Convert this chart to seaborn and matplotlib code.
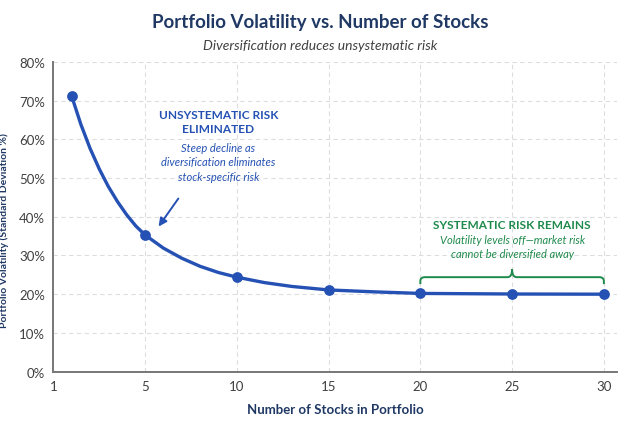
import numpy as np
import pandas as pd
import seaborn as sns
import matplotlib
matplotlib.use('Agg')
import matplotlib.pyplot as plt
from matplotlib.path import Path
from matplotlib.patches import PathPatch

## data
stocks = [1, 5, 10, 15, 20, 25, 30]
volatility = [71.2, 35.3, 24.4, 21.1, 20.2, 20.05, 20.0]

## points along the drawn curve
curve_x = [1, 1.5, 2, 2.5, 3, 3.5, 4, 4.5, 5, 6, 7, 8, 9, 10, 11.5, 13, 15, 17.5, 20, 25, 30]
curve_y = [71.2, 63.9, 57.7, 52.4, 47.8, 43.9, 40.5, 37.6, 35.3, 31.9, 29.3, 27.2, 25.6,
           24.4, 23.0, 22.0, 21.1, 20.6, 20.2, 20.05, 20.0]

tick_pos = [0, 5, 10, 15, 20, 25, 30]
tick_labels = ['1', '5', '10', '15', '20', '25', '30']
y_ticks = [0, 10, 20, 30, 40, 50, 60, 70, 80]

navy = '#1f3864'
blue = '#2451b3'
green = '#1e8a4c'

sns.set_style('white')
plt.rcParams['font.family'] = ['Lato', 'DejaVu Sans']

fig = plt.figure(figsize=(6.4, 4.27), dpi=100)
ax = fig.add_axes([0.0833, 0.1274, 0.8803, 0.7251])

curve = pd.DataFrame({'x': curve_x, 'y': curve_y})
pts = pd.DataFrame({'x': stocks, 'y': volatility})
sns.lineplot(data=curve, x='x', y='y', ax=ax, color=blue, lw=2.4, sort=False,
             solid_capstyle='round', zorder=3)
sns.scatterplot(data=pts, x='x', y='y', ax=ax, color=blue, s=60, edgecolor=blue,
                linewidth=0, zorder=4)

ax.set_xlim(0, 30.7)
ax.set_ylim(0, 80)
ax.set_xticks(tick_pos)
ax.set_xticklabels(tick_labels)
ax.set_yticks(y_ticks)
ax.set_yticklabels([f'{v}%' for v in y_ticks])
ax.grid(True, ls=(0, (4, 3)), color='#dddddd', lw=0.8)
ax.set_axisbelow(True)
for s in ['top', 'right']:
    ax.spines[s].set_visible(False)
for s in ['left', 'bottom']:
    ax.spines[s].set_color('#777777')
    ax.spines[s].set_linewidth(1.4)
ax.tick_params(axis='y', length=4, color='#777777', labelsize=9.5, labelcolor='#404040', pad=2)
ax.tick_params(axis='x', length=0, labelsize=9.5, labelcolor='#404040', pad=6)

ax.set_xlabel('Number of Stocks in Portfolio', fontsize=9.5, fontweight='bold', color=navy, labelpad=8)
ax.set_ylabel('Portfolio Volatility (Standard Deviation %)', fontsize=7.5, fontweight='bold',
              color=navy)
ax.yaxis.set_label_coords(-0.078, 0.46)

fig.text(0.5, 0.948, 'Portfolio Volatility vs. Number of Stocks', ha='center', va='center',
         fontsize=13.5, fontweight='bold', color=navy)
fig.text(0.5, 0.892, 'Diversification reduces unsystematic risk', ha='center', va='center',
         fontsize=10, style='italic', color='#404040')

## left annotation
ax.text(9, 64.6, 'UNSYSTEMATIC RISK\nELIMINATED', ha='center', va='center', fontsize=8.6,
        fontweight='bold', color=blue, linespacing=1.35)
ax.text(9, 54.2, 'Steep decline as\ndiversification eliminates\nstock-specific risk', ha='center',
        va='center', fontsize=8, style='italic', color=blue, linespacing=1.4)
ax.annotate('', xy=(stocks[1] + 0.65, volatility[1] + 1.6), xytext=(stocks[1] + 1.9, volatility[1] + 10),
            arrowprops=dict(arrowstyle='-|>', color=blue, lw=1.4, mutation_scale=12))

## right annotation
ax.text(25, 38.0, 'SYSTEMATIC RISK REMAINS', ha='center', va='center', fontsize=8.6,
        fontweight='bold', color=green)
ax.text(25, 32.3, 'Volatility levels off\u2014market risk\ncannot be diversified away', ha='center',
        va='center', fontsize=8, style='italic', color=green, linespacing=1.4)

x0, x1 = stocks[4], stocks[-1]
xm = (x0 + x1) / 2
yb, yh, yp = 22.6, 24.4, 26.4
dx, dy = 0.25, 1.0
verts = [(x0, yb), (x0, yh - dy), (x0, yh), (x0 + dx, yh), (xm - dx, yh), (xm, yh), (xm, yp),
         (xm, yh), (xm + dx, yh), (x1 - dx, yh), (x1, yh), (x1, yh - dy), (x1, yb)]
codes = [Path.MOVETO, Path.LINETO, Path.CURVE3, Path.CURVE3, Path.LINETO, Path.CURVE3, Path.CURVE3,
         Path.CURVE3, Path.CURVE3, Path.LINETO, Path.CURVE3, Path.CURVE3, Path.LINETO]
ax.add_patch(PathPatch(Path(verts, codes), fill=False, edgecolor=green, lw=1.4, zorder=2))

plt.savefig('out.png', dpi=100)
